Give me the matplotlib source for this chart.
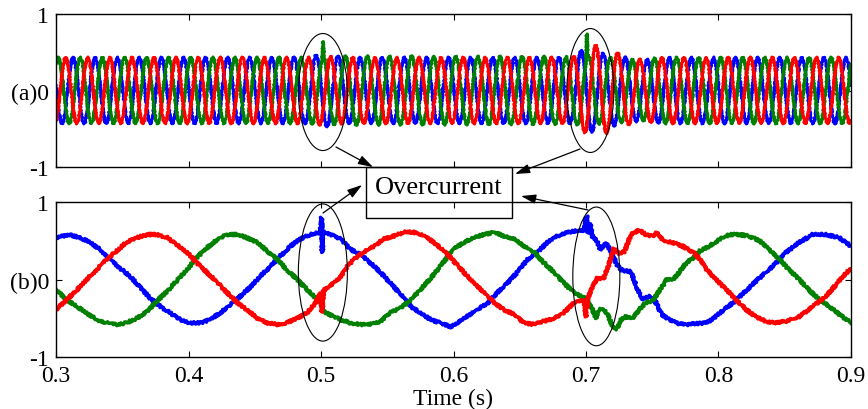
"""Three-phase current traces: (a) grid-side 60 Hz currents, (b) machine-side
low-frequency currents, with the two overcurrent events circled."""

import matplotlib
matplotlib.use("Agg")
import matplotlib.pyplot as plt
import numpy as np
from matplotlib.patches import Ellipse, Rectangle

# ---- (a) grid-side currents: 60 Hz carriers with amplitude envelopes ----
GRID_FREQ = 60.0
GRID_PEAK_T = {"blue": 0.3129, "green": 0.3017, "red": 0.3073}

ENV_T = [0.30, 0.49, 0.50, 0.52, 0.69, 0.70, 0.71, 0.725, 0.742, 0.755, 0.90]
ENV_BLUE = [0.43, 0.43, 0.48, 0.43, 0.43, 0.57, 0.50, 0.45, 0.39, 0.43, 0.43]
ENV_GREEN = [0.43, 0.43, 0.44, 0.45, 0.44, 0.46, 0.44, 0.42, 0.39, 0.43, 0.43]
ENV_RED = [0.43, 0.43, 0.45, 0.43, 0.43, 0.56, 0.60, 0.48, 0.40, 0.43, 0.43]

# short current spikes on phase "green"
SPIKE_T_GREEN = [0.5008, 0.5016, 0.5024, 0.6998, 0.7006, 0.7014]
SPIKE_DV_GREEN = [0.0, 0.20, 0.0, 0.0, 0.32, 0.0]

# ---- (b) machine-side currents, sampled (time s, current pu) ----
BLUE_T = [0.300, 0.310, 0.318, 0.326, 0.333, 0.341, 0.348, 0.356, 0.364, 0.371,
          0.379, 0.386, 0.394, 0.401, 0.409, 0.416, 0.424, 0.432, 0.439, 0.447,
          0.454, 0.462, 0.469, 0.477, 0.484, 0.492, 0.4995, 0.5005, 0.5010, 0.5015,
          0.503, 0.510, 0.515, 0.522, 0.530, 0.537, 0.545, 0.552, 0.560, 0.568,
          0.575, 0.583, 0.590, 0.598, 0.603, 0.610, 0.618, 0.626, 0.633, 0.641,
          0.648, 0.656, 0.663, 0.671, 0.678, 0.686, 0.694, 0.698, 0.7005, 0.7015,
          0.703, 0.705, 0.708, 0.711, 0.715, 0.719, 0.723, 0.727, 0.734, 0.738,
          0.742, 0.748, 0.753, 0.757, 0.763, 0.770, 0.776, 0.783, 0.790, 0.795,
          0.801, 0.811, 0.821, 0.831, 0.841, 0.851, 0.861, 0.871, 0.881, 0.891,
          0.900]
BLUE_V = [0.54, 0.58, 0.54, 0.48, 0.39, 0.26, 0.15, 0.04, -0.11, -0.24,
          -0.35, -0.43, -0.52, -0.56, -0.56, -0.52, -0.43, -0.32, -0.22, -0.09,
          0.04, 0.17, 0.30, 0.43, 0.52, 0.58, 0.61, 0.80, 0.35, 0.62,
          0.61, 0.56, 0.52, 0.39, 0.32, 0.22, 0.09, -0.04, -0.19, -0.35,
          -0.43, -0.52, -0.56, -0.61, -0.56, -0.48, -0.39, -0.30, -0.17, -0.04,
          0.09, 0.26, 0.35, 0.48, 0.56, 0.61, 0.63, 0.62, 0.82, 0.60,
          0.72, 0.55, 0.50, 0.38, 0.47, 0.36, 0.20, 0.12, 0.10, -0.09,
          -0.25, -0.22, -0.30, -0.45, -0.52, -0.57, -0.58, -0.57, -0.56, -0.52,
          -0.43, -0.30, -0.14, 0.02, 0.17, 0.35, 0.48, 0.58, 0.58, 0.54,
          0.43]

RED_T = [0.300, 0.308, 0.316, 0.323, 0.331, 0.338, 0.346, 0.353, 0.361, 0.369,
         0.376, 0.384, 0.391, 0.399, 0.406, 0.414, 0.422, 0.429, 0.437, 0.444,
         0.452, 0.459, 0.467, 0.474, 0.482, 0.4895, 0.495, 0.4995, 0.5008, 0.5020,
         0.5035, 0.510, 0.515, 0.520, 0.525, 0.532, 0.540, 0.547, 0.555, 0.5625,
         0.570, 0.578, 0.585, 0.593, 0.600, 0.608, 0.615, 0.623, 0.631, 0.638,
         0.646, 0.653, 0.661, 0.668, 0.676, 0.683, 0.691, 0.6985, 0.700, 0.7015,
         0.705, 0.709, 0.713, 0.717, 0.721, 0.725, 0.729, 0.734, 0.740, 0.745,
         0.750, 0.754, 0.758, 0.765, 0.773, 0.781, 0.786, 0.791, 0.798, 0.806,
         0.813, 0.821, 0.828, 0.836, 0.843, 0.851, 0.861, 0.871, 0.881, 0.891,
         0.900]
RED_V = [-0.39, -0.26, -0.13, 0.00, 0.13, 0.26, 0.37, 0.48, 0.54, 0.58,
         0.58, 0.54, 0.45, 0.35, 0.22, 0.09, -0.04, -0.17, -0.30, -0.39,
         -0.50, -0.56, -0.58, -0.56, -0.50, -0.43, -0.32, -0.18, -0.42, -0.12,
         -0.13, -0.04, 0.04, 0.17, 0.26, 0.35, 0.43, 0.52, 0.56, 0.61,
         0.61, 0.56, 0.48, 0.37, 0.24, 0.09, -0.04, -0.17, -0.30, -0.39,
         -0.45, -0.56, -0.58, -0.54, -0.50, -0.43, -0.30, -0.26, -0.48, -0.24,
         -0.08, 0.03, 0.00, 0.18, 0.40, 0.33, 0.36, 0.58, 0.64, 0.58,
         0.56, 0.61, 0.50, 0.48, 0.43, 0.35, 0.26, 0.13, 0.00, -0.13,
         -0.26, -0.39, -0.48, -0.54, -0.56, -0.54, -0.48, -0.35, -0.22, -0.02,
         0.15]

GREEN_T = [0.300, 0.308, 0.316, 0.323, 0.331, 0.338, 0.346, 0.353, 0.361, 0.369,
           0.376, 0.384, 0.391, 0.399, 0.406, 0.414, 0.422, 0.429, 0.437, 0.444,
           0.452, 0.459, 0.467, 0.474, 0.482, 0.4895, 0.4985, 0.5005, 0.501, 0.506,
           0.515, 0.522, 0.530, 0.537, 0.545, 0.552, 0.560, 0.568, 0.575, 0.583,
           0.590, 0.595, 0.600, 0.608, 0.615, 0.623, 0.631, 0.638, 0.646, 0.653,
           0.661, 0.668, 0.676, 0.683, 0.691, 0.6985, 0.700, 0.7015, 0.704, 0.7076,
           0.710, 0.7126, 0.7164, 0.720, 0.7227, 0.7265, 0.730, 0.735, 0.740, 0.745,
           0.750, 0.756, 0.761, 0.766, 0.771, 0.776, 0.781, 0.786, 0.793, 0.801,
           0.808, 0.816, 0.823, 0.831, 0.838, 0.846, 0.853, 0.861, 0.868, 0.876,
           0.884, 0.891, 0.900]
GREEN_V = [-0.13, -0.26, -0.35, -0.43, -0.52, -0.56, -0.58, -0.56, -0.50, -0.41,
           -0.28, -0.15, -0.02, 0.13, 0.28, 0.41, 0.52, 0.58, 0.58, 0.54,
           0.48, 0.37, 0.26, 0.13, 0.00, -0.13, -0.28, -0.30, -0.40, -0.45,
           -0.52, -0.56, -0.58, -0.58, -0.54, -0.43, -0.37, -0.26, -0.13, 0.02,
           0.17, 0.28, 0.39, 0.48, 0.54, 0.58, 0.61, 0.56, 0.52, 0.43,
           0.35, 0.22, 0.09, -0.04, -0.17, -0.24, -0.22, -0.28, -0.35, -0.50,
           -0.39, -0.37, -0.45, -0.61, -0.65, -0.52, -0.48, -0.50, -0.39, -0.30,
           -0.28, -0.13, 0.00, 0.00, 0.11, 0.22, 0.28, 0.37, 0.43, 0.52,
           0.58, 0.58, 0.56, 0.50, 0.39, 0.26, 0.13, 0.00, -0.13, -0.26,
           -0.35, -0.45, -0.56]

XTICKS = [0.3, 0.4, 0.5, 0.6, 0.7, 0.8, 0.9]
YTICKS = [-1, 0, 1]

C_BLUE = "#0000ff"
C_GREEN = "#008000"
C_RED = "#ff0000"

W, H = 868, 410


def px(x, y):
    """Pixel position (from top-left) -> figure fraction."""
    return x / W, 1 - y / H


def style_axes(ax, tag):
    ax.set_xlim(0.3, 0.9)
    ax.set_ylim(-1, 1)
    ax.set_xticks(XTICKS)
    ax.set_yticks(YTICKS)
    ax.set_yticklabels(["-1", f"({tag})0", "1"])
    ax.tick_params(direction="in", top=True, right=True, length=4, width=0.8,
                   labelsize=17)
    ax.tick_params(axis="y", pad=5)
    ax.tick_params(axis="x", pad=6)
    for sp in ax.spines.values():
        sp.set_linewidth(1.0)
    ax.patch.set_visible(False)


def main():
    plt.rcParams.update({
        "font.family": ["Liberation Serif", "DejaVu Serif"],
        "font.size": 17,
    })
    fig = plt.figure(figsize=(W / 100, H / 100), dpi=100)
    l0, b0 = px(56, 168)
    r0, t0 = px(851, 15)
    ax_a = fig.add_axes([l0, b0, r0 - l0, t0 - b0])
    l1, b1 = px(56, 358)
    r1, t1 = px(851, 203)
    ax_b = fig.add_axes([l1, b1, r1 - l1, t1 - b1])

    # (a) grid side
    t = np.linspace(0.3, 0.9, 6001)
    envs = {"blue": ENV_BLUE, "green": ENV_GREEN, "red": ENV_RED}
    colors = {"blue": C_BLUE, "green": C_GREEN, "red": C_RED}
    for ph in ("blue", "green", "red"):
        env = np.interp(t, ENV_T, envs[ph])
        y = env * np.cos(2 * np.pi * GRID_FREQ * (t - GRID_PEAK_T[ph]))
        if ph == "green":
            y = y + np.interp(t, SPIKE_T_GREEN, SPIKE_DV_GREEN, left=0, right=0)
        ln, = ax_a.plot(t, y, color=colors[ph], lw=2.2)
        ln.set_sketch_params(0.7, 3, 2)
    style_axes(ax_a, "a")
    ax_a.set_xticklabels([])

    # (b) machine side
    for tt, vv, c in ((BLUE_T, BLUE_V, C_BLUE), (GREEN_T, GREEN_V, C_GREEN),
                      (RED_T, RED_V, C_RED)):
        ln, = ax_b.plot(tt, vv, color=c, lw=2.6, solid_joinstyle="round")
        ln.set_sketch_params(1.2, 3, 2)
    style_axes(ax_b, "b")
    ax_b.set_xticklabels([f"{x:.1f}" for x in XTICKS])
    ax_b.set_xlabel("Time (s)", fontsize=17, labelpad=1)

    # circled events
    for ax, (cx, cy, w, h) in ((ax_a, (0.5014, -0.02, 0.037, 1.53)),
                               (ax_a, (0.7033, 0.0, 0.0355, 1.62)),
                               (ax_b, (0.5014, 0.09, 0.037, 1.77)),
                               (ax_b, (0.7078, 0.04, 0.0355, 1.79))):
        ax.add_patch(Ellipse((cx, cy), w, h, fill=False, ec="black", lw=0.8,
                             clip_on=False, zorder=5))

    # label box and arrows (on the lower axes so they sit above both panels)
    bx0, by0 = px(366, 219)
    bx1, by1 = px(512, 168)
    ax_b.add_patch(Rectangle((bx0, by0), bx1 - bx0, by1 - by0, fill=False,
                             ec="black", lw=1.0, transform=fig.transFigure,
                             clip_on=False, zorder=6))
    fig.text(*px(439, 188), "Overcurrent", ha="center", va="center",
             fontsize=19)
    for tail, head in (((336, 148), (373, 168)), ((580, 150), (515, 175)),
                       ((323, 214), (362, 186)), ((588, 211), (521, 197))):
        ax_b.annotate("", xy=px(*head), xycoords="figure fraction",
                      xytext=px(*tail), textcoords="figure fraction",
                      arrowprops=dict(arrowstyle="-|>,head_length=0.9,head_width=0.28",
                                      mutation_scale=10, color="black", lw=0.9,
                                      shrinkA=0, shrinkB=0),
                      annotation_clip=False, zorder=7)

    fig.savefig("out.png", dpi=100)


if __name__ == "__main__":
    main()
